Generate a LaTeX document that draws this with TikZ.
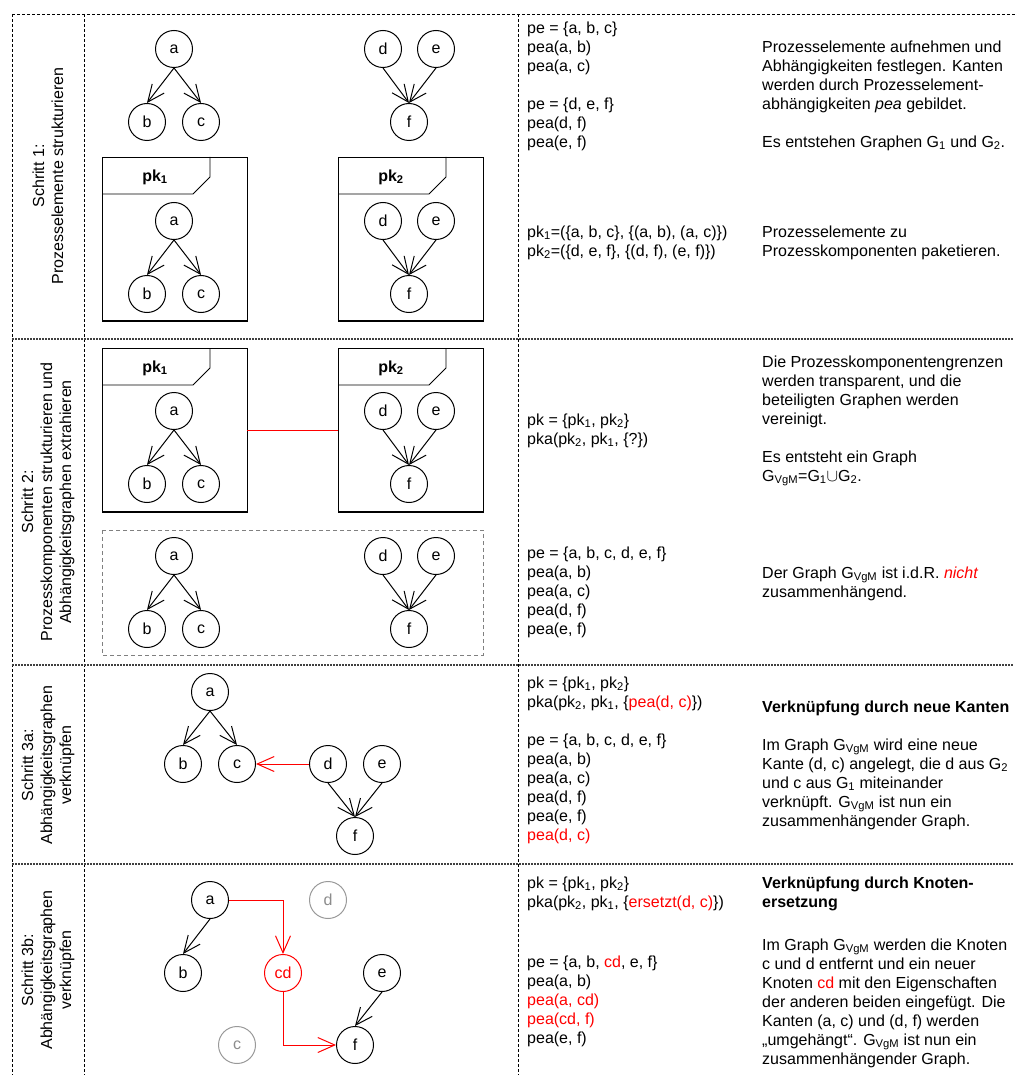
\documentclass[tikz,border=0pt]{standalone}
\usepackage{fontspec}
\setmainfont{Liberation Sans}
\usetikzlibrary{arrows.meta,positioning,calc}

\newcommand{\ix}[1]{\textsubscript{#1}}
\newcommand{\redtxt}[1]{\textcolor{red}{#1}}
\newcommand{\GVgM}{G\ix{VgM}}

\tikzset{
  pe/.style={circle, draw, line width=1pt, minimum size=37pt, inner sep=0pt},
  ghost/.style={pe, draw=black!40, text=black!45},
  dep/.style={line width=1pt, -{Straight Barb[length=17pt,width=15pt]}},
  pkbox/.style={draw, line width=0.8pt, minimum width=145pt, minimum height=164pt,
    inner sep=0pt, outer sep=0pt, anchor=north west},
  txt/.style={anchor=north west, inner sep=0pt, align=left},
  grid/.style={line width=0.7pt, dash pattern=on 3pt off 2pt},
  rowline/.style={line width=1.1pt, black!75, dash pattern=on 2pt off 1pt},
  steplabel/.style={rotate=90, align=center}
}

\begin{document}
\begin{tikzpicture}[x=1pt, y=-1pt, font=\fontsize{16}{19}\selectfont]
  \useasboundingbox (0,0) rectangle (1015,1075);
  %
  % table
  \draw[grid] (12,14) -- (1015,14);
  \draw[grid] (12,14) -- (12,1075);
  \draw[grid] (84,14) -- (84,1075);
  \draw[grid] (518,14) -- (518,1075);
  \foreach \y in {339,665,864}
    \draw[rowline] (12,\y) -- (1013,\y);
  %
  \node[steplabel] (s1) at (48,176) {Schritt 1:\\Prozesselemente strukturieren};
  \node[steplabel] (s2) at (48,502) {Schritt 2:\\Prozesskomponenten strukturieren und\\Abhängigkeitsgraphen extrahieren};
  \node[steplabel] (s3a) at (48,765) {Schritt 3a:\\Abhängigkeitsgraphen\\verknüpfen};
  \node[steplabel] (s3b) at (48,970) {Schritt 3b:\\Abhängigkeitsgraphen\\verknüpfen};
  %
  % process components
  \foreach \y/\r in {157/1,348/2}{
    \foreach \x/\k in {102/1,338/2}{
      \node[pkbox] (pk\k\r) at (\x,\y) {};
      \draw[line width=0.8pt] ($(pk\k\r.north west)+(108,0)$) -- ++(0,20) -- ++(-17,17) -| (pk\k\r.west |- 0,\y+37);
      \draw[line width=2pt] (pk\k\r.south west) -- (pk\k\r.south east);
      \node[font=\fontsize{16}{19}\selectfont\bfseries] (pkl\k\r) at (\x+53,\y+20) {pk\ix{\k}};
    }
  }
  \draw[red, line width=1pt] (pk12.east) -- (pk22.west);
  \draw[gray, line width=0.8pt, dash pattern=on 4pt off 3pt] (102,530) rectangle (483,655);
  %
  % graphs G1 and G2
  \foreach \y/\r in {49/1,221/2,411/3,556/4}{
    \node[pe] (a\r) at (174,\y) {a};
    \node[pe] (b\r) at (147,\y+73) {b};
    \node[pe] (c\r) at (201,\y+73) {c};
    \node[pe] (d\r) at (383,\y) {d};
    \node[pe] (e\r) at (436,\y) {e};
    \node[pe] (f\r) at (409,\y+73) {f};
    \draw[dep] (a\r.south) -- (b\r.north);
    \draw[dep] (a\r.south) -- (c\r.north);
    \draw[dep] (d\r.south) -- (f\r.north);
    \draw[dep] (e\r.south) -- (f\r.north);
  }
  %
  % step 3a
  \node[pe] (a5) at (210,692) {a};
  \node[pe] (b5) at (183,764) {b};
  \node[pe] (c5) at (237,764) {c};
  \node[pe] (d5) at (328,764) {d};
  \node[pe] (e5) at (382,764) {e};
  \node[pe] (f5) at (355,836) {f};
  \draw[dep] (a5.south) -- (b5.north);
  \draw[dep] (a5.south) -- (c5.north);
  \draw[dep] (d5.south) -- (f5.north);
  \draw[dep] (e5.south) -- (f5.north);
  \draw[dep, red] (d5.west) -- (c5.east);
  %
  % step 3b
  \node[pe] (a6) at (210,900) {a};
  \node[ghost] (d6) at (328,900) {d};
  \node[pe] (b6) at (183,973) {b};
  \node[pe, draw=red, text=red] (cd6) at (283,973) {cd};
  \node[pe] (e6) at (382,973) {e};
  \node[ghost] (c6) at (237,1045) {c};
  \node[pe] (f6) at (355,1045) {f};
  \draw[dep] (a6.south) -- (b6.north);
  \draw[dep] (e6.south) -- (f6.north);
  \draw[dep, red] (a6.east) -| (cd6.north);
  \draw[dep, red] (cd6.south) |- (f6.west);
  %
  % formal notation
  \node[txt] (n1) at (527,19.7) {\strut pe = \{a, b, c\}\\pea(a, b)\\pea(a, c)\\[19pt]pe = \{d, e, f\}\\pea(d, f)\\pea(e, f)};
  \node[txt] (n2) at (527,223.7) {\strut pk\ix{1}=(\{a, b, c\}, \{(a, b), (a, c)\})\\pk\ix{2}=(\{d, e, f\}, \{(d, f), (e, f)\})};
  \node[txt] (n3) at (527,411.7) {\strut pk = \{pk\ix{1}, pk\ix{2}\}\\pka(pk\ix{2}, pk\ix{1}, \{?\})};
  \node[txt] (n4) at (527,544.7) {\strut pe = \{a, b, c, d, e, f\}\\pea(a, b)\\pea(a, c)\\pea(d, f)\\pea(e, f)};
  \node[txt] (n5) at (527,674.7) {\strut pk = \{pk\ix{1}, pk\ix{2}\}\\pka(pk\ix{2}, pk\ix{1}, \{\redtxt{pea(d, c)}\})\\[19pt]pe = \{a, b, c, d, e, f\}\\pea(a, b)\\pea(a, c)\\pea(d, f)\\pea(e, f)\\\redtxt{pea(d, c)}};
  \node[txt] (n6) at (527,874.7) {\strut pk = \{pk\ix{1}, pk\ix{2}\}\\pka(pk\ix{2}, pk\ix{1}, \{\redtxt{ersetzt(d, c)}\})};
  \node[txt] (n7) at (527,953.7) {\strut pe = \{a, b, \redtxt{cd}, e, f\}\\pea(a, b)\\\redtxt{pea(a, cd)}\\\redtxt{pea(cd, f)}\\pea(e, f)};
  %
  % explanations
  \node[txt] (x1) at (762,38.7) {\strut Prozesselemente aufnehmen und\\Abhängigkeiten festlegen. Kanten\\werden durch Prozesselement-\\abhängigkeiten \textit{pea} gebildet.\\[19pt]Es entstehen Graphen G\ix{1} und G\ix{2}.};
  \node[txt] (x2) at (762,223.7) {\strut Prozesselemente zu\\Prozesskomponenten paketieren.};
  \node[txt] (x3) at (762,353.7) {\strut Die Prozesskomponentengrenzen\\werden transparent, und die\\beteiligten Graphen werden\\vereinigt.\\[19pt]Es entsteht ein Graph\\\GVgM=G\ix{1}$\cup$G\ix{2}.};
  \node[txt] (x4) at (762,564.7) {\strut Der Graph \GVgM{} ist i.d.R. \redtxt{\textit{nicht}}\\zusammenhängend.};
  \node[txt, font=\fontsize{16}{19}\selectfont\bfseries] (x5) at (762,698.7) {\strut Verknüpfung durch neue Kanten};
  \node[txt] (x6) at (762,736.7) {\strut Im Graph \GVgM{} wird eine neue\\Kante (d, c) angelegt, die d aus G\ix{2}\\und c aus G\ix{1} miteinander\\verknüpft. \GVgM{} ist nun ein\\zusammenhängender Graph.};
  \node[txt, font=\fontsize{16}{19}\selectfont\bfseries] (x7) at (762,874.7) {\strut Verknüpfung durch Knoten-\\ersetzung};
  \node[txt] (x8) at (762,936.7) {\strut Im Graph \GVgM{} werden die Knoten\\c und d entfernt und ein neuer\\Knoten \redtxt{cd} mit den Eigenschaften\\der anderen beiden eingefügt. Die\\Kanten (a, c) und (d, f) werden\\„umgehängt“. \GVgM{} ist nun ein\\zusammenhängender Graph.};
\end{tikzpicture}
\end{document}
